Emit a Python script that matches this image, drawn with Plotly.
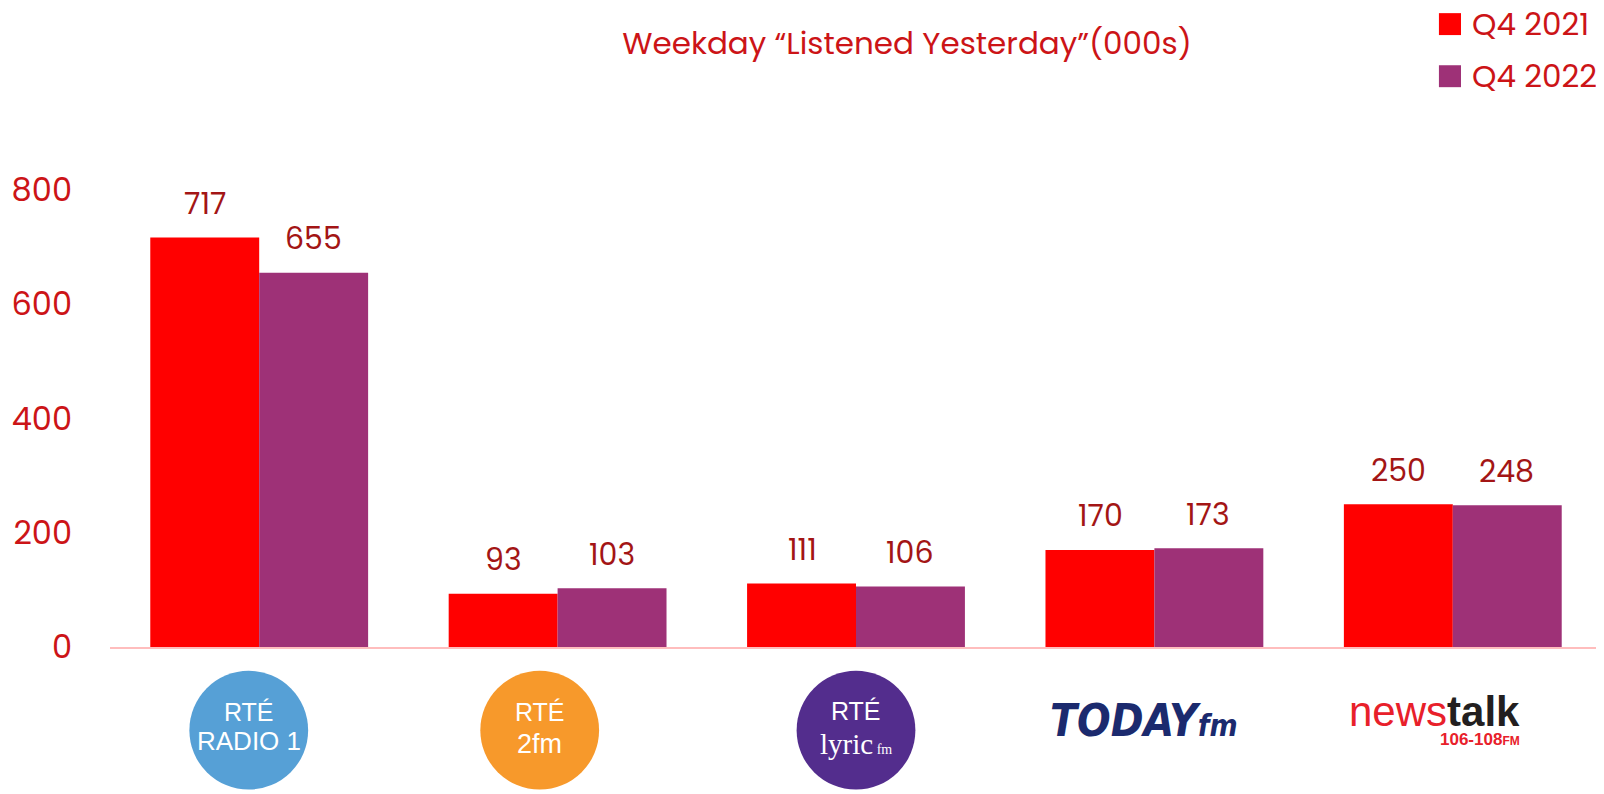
import plotly.graph_objects as go

# data
stations = ["RTÉ Radio 1", "RTÉ 2fm", "RTÉ lyric fm", "Today FM", "Newstalk"]
series_names = ["Q4 2021", "Q4 2022"]
q4_2021 = [717, 93, 111, 170, 250]
q4_2022 = [655, 103, 106, 173, 248]
y_ticks = [0, 200, 400, 600, 800]

colors = ["#FF0000", "#9E3177"]
font_main = "Poppins, 'Open Sans', sans-serif"
tick_red = "#CC1417"
label_red = "#A31515"

fig = go.Figure()
for name, vals, col in zip(series_names, [q4_2021, q4_2022], colors):
    fig.add_trace(go.Bar(x=stations, y=vals, name=name, marker_color=col,
                         marker_line_width=0, showlegend=False))

# value labels above bars
for s, vals in enumerate([q4_2021, q4_2022]):
    for st, v in zip(stations, vals):
        fig.add_annotation(x=st, y=v, text=str(v), showarrow=False,
                           xshift=(-54 if s == 0 else 54), yshift=34,
                           font=dict(family=font_main, size=30, color=label_red))

# manual legend (big squares)
leg_y = [1.363, 1.249]
for name, col, ly in zip(series_names, colors, leg_y):
    fig.add_shape(type="rect", xref="paper", yref="paper",
                  x0=0.8907, x1=0.9055, y0=ly - 0.024, y1=ly + 0.024,
                  fillcolor=col, line_width=0)
    fig.add_annotation(xref="paper", yref="paper", x=0.9115, y=ly, text=name,
                       showarrow=False, xanchor="left", yanchor="middle",
                       font=dict(family=font_main, size=31, color=tick_red))

# station logos drawn under the axis
narrow = "'Liberation Sans Narrow', 'Arial Narrow', sans-serif"
logo_circles = [(0, -0.035, "#56A0D6"), (1, -0.06, "#F7992B"), (2, 0.0, "#532D8D")]
for i, dx, col in logo_circles:
    fig.add_shape(type="circle", xref="x", yref="paper",
                  x0=i + dx - 0.199, x1=i + dx + 0.199, y0=-0.182 - 0.130, y1=-0.182 + 0.130,
                  fillcolor=col, line_width=0, layer="above")

logo_text = [
    (0, -0.035, -0.142, "RTÉ", narrow, 25),
    (0, -0.035, -0.206, "RADIO 1", narrow, 26),
    (1, -0.06, -0.142, "RTÉ", narrow, 25),
    (1, -0.06, -0.212, "2fm", narrow, 27),
    (2, 0.0, -0.140, "RTÉ", narrow, 25),
    (2, 0.0, -0.212, "lyric<span style='font-size:14px'> fm</span>", "'Liberation Serif', serif", 29),
]
for i, dx, y, txt, fam, sz in logo_text:
    fig.add_annotation(xref="x", yref="paper", x=i + dx, y=y, text=txt, showarrow=False,
                       yanchor="middle", font=dict(family=fam, size=sz, color="white"))

fig.add_annotation(xref="x", yref="paper", x=3 - 0.034, y=-0.16, yanchor="middle",
                   text="<b><i>TODAY</i></b><span style='font-size:30px'><b><i>fm</i></b></span>",
                   showarrow=False,
                   font=dict(family="'DejaVu Sans Condensed', 'DejaVu Sans', sans-serif", size=44,
                             color="#1B2A6E"))
fig.add_annotation(xref="x", yref="paper", x=4 - 0.062, y=-0.142, yanchor="middle",
                   text="<span style='color:#E8202A'>news</span><b>talk</b>",
                   showarrow=False,
                   font=dict(family="'Liberation Sans', Arial, sans-serif", size=42, color="#231F20"))
fig.add_annotation(xref="x", yref="paper", x=4 + 0.231, y=-0.2035, yanchor="middle",
                   text="<b>106-108<span style='font-size:12px'>FM</span></b>",
                   showarrow=False, xanchor="right",
                   font=dict(family="'Liberation Sans Narrow', sans-serif", size=17, color="#E8202A"))

# page body adds an 8px margin, so the figure is 8px smaller and shifted
fig.update_layout(
    width=1596, height=786,
    barmode="group", bargap=0.27, bargroupgap=0,
    plot_bgcolor="white", paper_bgcolor="white",
    margin=dict(l=102, r=2, t=182, b=147),
    title=dict(text="Weekday “Listened Yesterday”(000s)", x=899 / 1596, y=1 - 35 / 786,
               xanchor="center", yanchor="middle",
               font=dict(family=font_main, size=31, color=tick_red)),
    xaxis=dict(showticklabels=False, ticks="", showgrid=False, showline=True,
               linecolor="#FFBDBD", linewidth=2, zeroline=False),
    yaxis=dict(range=[0, 800], tickvals=y_ticks, showgrid=False, zeroline=False,
               showline=False, ticklabelstandoff=37,
               tickfont=dict(family=font_main, size=32, color=tick_red)),
)

fig.write_html("out.html")
